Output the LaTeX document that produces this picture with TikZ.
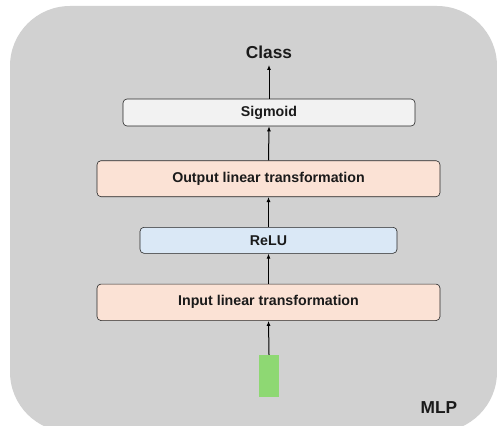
\documentclass[tikz,border=0pt]{standalone}
\usepackage{fontspec}
\setmainfont{Liberation Sans}
\usetikzlibrary{arrows.meta}
\definecolor{bggray}{HTML}{D1D1D1}
\definecolor{sigfill}{HTML}{F2F2F2}
\definecolor{linfill}{HTML}{FBE2D5}
\definecolor{relufill}{HTML}{DAE8F6}
\definecolor{inputgreen}{HTML}{8ED873}
\definecolor{txt}{HTML}{1A1A1A}
\tikzset{
  layer/.style={draw=black!85, line width=0.6pt, rounded corners=4pt, minimum height=#1, inner sep=0pt, text=txt, font=\fontsize{14.2}{16}\selectfont\bfseries},
  flow/.style={-{Latex[length=5pt,width=4pt]}, line width=1pt},
  big/.style={font=\fontsize{17.3}{19}\selectfont\bfseries, inner sep=0pt, text=txt, anchor=base},
  x=1pt, y=-1pt
}
\begin{document}
\begin{tikzpicture}
\useasboundingbox (0,0) rectangle (497,425);
\fill[bggray, rounded corners=60pt] (10,6) rectangle (497,432);
\node[layer=27pt, fill=sigfill, minimum width=292pt] (sig) at (269,112.5) {Sigmoid};
\node[layer=36pt, fill=linfill, minimum width=343pt] (out) at (268.5,178.7) {Output linear transformation};
\node[layer=26pt, fill=relufill, minimum width=257pt] (relu) at (268.5,240.3) {ReLU};
\node[layer=36.5pt, fill=linfill, minimum width=343pt] (in) at (268.5,302.3) {Input linear transformation};
\node[fill=inputgreen, minimum width=20pt, minimum height=42pt, inner sep=0pt] (x) at (269,376) {};
\node[big] (cls) at (269,59) {Class};
\node[big] (mlp) at (439,413) {MLP};
\coordinate (clsin) at (269,65);
\draw[flow] (x.north) -- (in.south);
\draw[flow] (in.north) -- (relu.south);
\draw[flow] (relu.north) -- (out.south);
\draw[flow] (out.north) -- (sig.south);
\draw[flow] (sig.north) -- (clsin);
\end{tikzpicture}
\end{document}
